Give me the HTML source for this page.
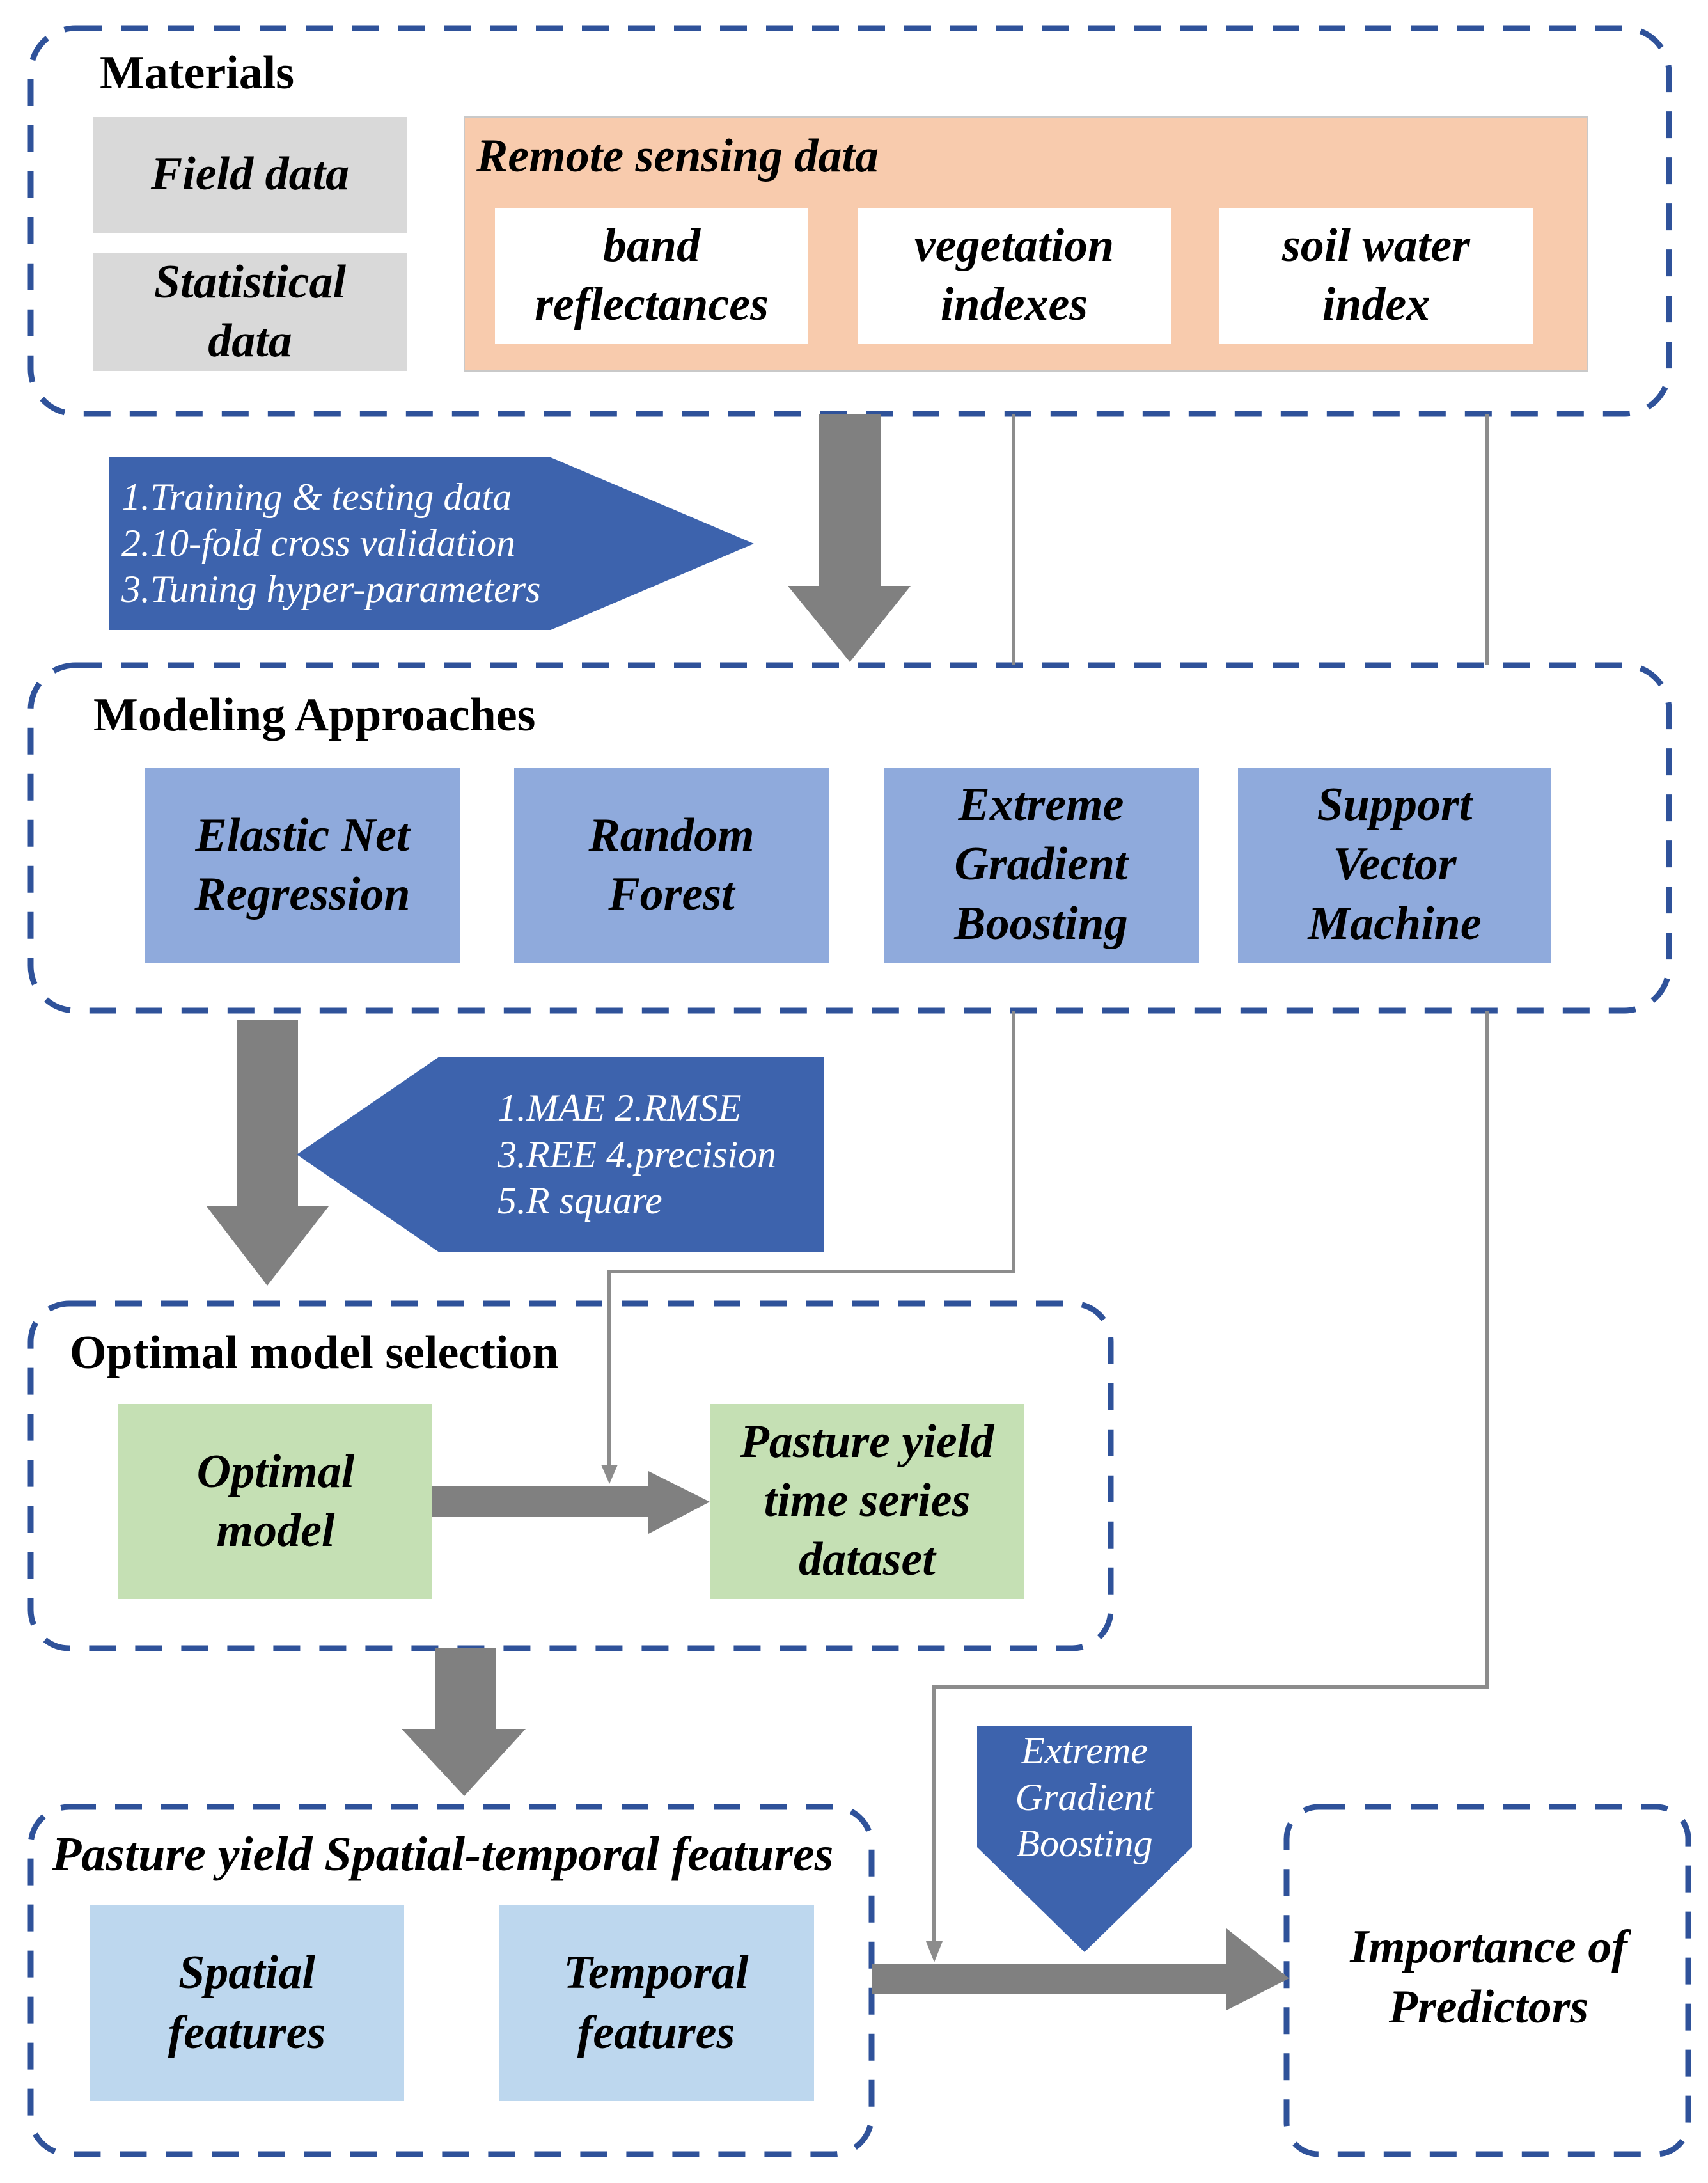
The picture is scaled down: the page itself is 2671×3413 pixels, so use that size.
<!DOCTYPE html>
<html><head><meta charset="utf-8"><style>
html,body{margin:0;padding:0;background:#fff;}
svg{display:block;}
text{font-family:"Liberation Serif",serif;}
.t{font-weight:bold;font-style:italic;font-size:74px;fill:#000;text-anchor:middle;}
.h{font-weight:bold;font-size:74px;fill:#000;}
.w{font-style:italic;font-size:60px;fill:#fff;}
</style></head><body>
<svg width="2671" height="3413" viewBox="0 0 2671 3413" xmlns="http://www.w3.org/2000/svg">
<g fill="none" stroke="#2f529a" stroke-width="9" stroke-dasharray="42 30">
<rect x="48" y="44" width="2562" height="603" rx="70"/>
<rect x="48" y="1040" width="2562" height="540" rx="70"/>
<rect x="48" y="2038" width="1689" height="539" rx="60"/>
<rect x="48" y="2825" width="1315" height="543" rx="60"/>
<rect x="2012" y="2825" width="628" height="543" rx="50"/>
</g>
<!-- Materials -->
<text class="h" x="156" y="138">Materials</text>
<rect x="146" y="183" width="491" height="181" fill="#d9d9d9"/>
<rect x="146" y="395" width="491" height="185" fill="#d9d9d9"/>
<text class="t" x="391" y="296">Field data</text>
<text class="t" x="391" y="465">Statistical</text>
<text class="t" x="391" y="557">data</text>
<rect x="726" y="183" width="1757" height="397" fill="#f8cbad" stroke="#c9c9c9" stroke-width="2"/>
<text class="t" x="745" y="268" style="text-anchor:start">Remote sensing data</text>
<rect x="774" y="325" width="490" height="213" fill="#fff"/>
<rect x="1341" y="325" width="490" height="213" fill="#fff"/>
<rect x="1907" y="325" width="491" height="213" fill="#fff"/>
<text class="t" x="1019" y="408">band</text><text class="t" x="1019" y="500">reflectances</text>
<text class="t" x="1586" y="408">vegetation</text><text class="t" x="1586" y="500">indexes</text>
<text class="t" x="2152" y="408">soil water</text><text class="t" x="2152" y="500">index</text>
<!-- pentagon 1 -->
<polygon points="170,715 861,715 1179,850 861,985 170,985" fill="#3d63ad"/>
<text class="w" x="190" y="797">1.Training &amp; testing data</text>
<text class="w" x="190" y="869">2.10-fold cross validation</text>
<text class="w" x="190" y="941">3.Tuning  hyper-parameters</text>
<!-- arrow 1 -->
<polygon points="1280,647 1378,647 1378,916 1424,916 1329,1035 1232,916 1280,916" fill="#808080"/>
<g stroke="#8c8c8c" stroke-width="6" fill="none">
<line x1="1585" y1="647" x2="1585" y2="1040"/>
<line x1="2326" y1="647" x2="2326" y2="1040"/>
<polyline points="1585,1580 1585,1988 953,1988 953,2300"/>
<polyline points="2326,1580 2326,2638 1461,2638 1461,3045"/>
</g>
<polygon points="940,2290 966,2290 953,2320" fill="#8c8c8c"/>
<polygon points="1448,3035 1474,3035 1461,3068" fill="#8c8c8c"/>
<!-- Modeling -->
<text class="h" x="146" y="1142">Modeling Approaches</text>
<g fill="#8faadc">
<rect x="227" y="1201" width="492" height="305"/>
<rect x="804" y="1201" width="493" height="305"/>
<rect x="1382" y="1201" width="493" height="305"/>
<rect x="1936" y="1201" width="490" height="305"/>
</g>
<text class="t" x="473" y="1330">Elastic Net</text><text class="t" x="473" y="1422">Regression</text>
<text class="t" x="1050" y="1330">Random</text><text class="t" x="1050" y="1422">Forest</text>
<text class="t" x="1628" y="1282">Extreme</text><text class="t" x="1628" y="1375">Gradient</text><text class="t" x="1628" y="1468">Boosting</text>
<text class="t" x="2181" y="1282">Support</text><text class="t" x="2181" y="1375">Vector</text><text class="t" x="2181" y="1468">Machine</text>
<!-- arrow 2 -->
<polygon points="371,1594 466,1594 466,1886 514,1886 418,2010 323,1886 371,1886" fill="#808080"/>
<!-- pentagon 2 -->
<polygon points="1288,1652 687,1652 464,1805 687,1958 1288,1958" fill="#3d63ad"/>
<text class="w" x="778" y="1752">1.MAE   2.RMSE</text>
<text class="w" x="778" y="1825">3.REE    4.precision</text>
<text class="w" x="778" y="1897">5.R square</text>
<!-- Optimal -->
<text class="h" x="109" y="2139">Optimal model selection</text>
<rect x="185" y="2195" width="491" height="305" fill="#c5e0b4"/>
<rect x="1110" y="2195" width="492" height="305" fill="#c5e0b4"/>
<text class="t" x="431" y="2325">Optimal</text><text class="t" x="431" y="2417">model</text>
<text class="t" x="1356" y="2278">Pasture yield</text><text class="t" x="1356" y="2370">time series</text><text class="t" x="1356" y="2462">dataset</text>
<polygon points="676,2324 1014,2324 1014,2300 1110,2348 1014,2398 1014,2372 676,2372" fill="#808080"/>
<!-- arrow 4 -->
<polygon points="680,2577 776,2577 776,2703 822,2703 726,2808 628,2703 680,2703" fill="#808080"/>
<!-- ST features -->
<text class="t" x="81" y="2924" style="text-anchor:start;font-size:76px">Pasture yield Spatial-temporal features</text>
<rect x="140" y="2978" width="492" height="307" fill="#bdd7ee"/>
<rect x="780" y="2978" width="493" height="307" fill="#bdd7ee"/>
<text class="t" x="386" y="3108">Spatial</text><text class="t" x="386" y="3202">features</text>
<text class="t" x="1026" y="3108">Temporal</text><text class="t" x="1026" y="3202">features</text>
<!-- pentagon 3 -->
<polygon points="1528,2699 1864,2699 1864,2888 1696,3052 1528,2888" fill="#3d63ad"/>
<text class="w" x="1696" y="2757" text-anchor="middle">Extreme</text>
<text class="w" x="1696" y="2830" text-anchor="middle">Gradient</text>
<text class="w" x="1696" y="2902" text-anchor="middle">Boosting</text>
<!-- final arrow -->
<polygon points="1363,3070 1918,3070 1918,3015 2016,3093 1918,3143 1918,3117 1363,3117" fill="#808080"/>
<text class="t" x="2328" y="3068">Importance of</text>
<text class="t" x="2328" y="3162">Predictors</text>
</svg>
</body></html>
